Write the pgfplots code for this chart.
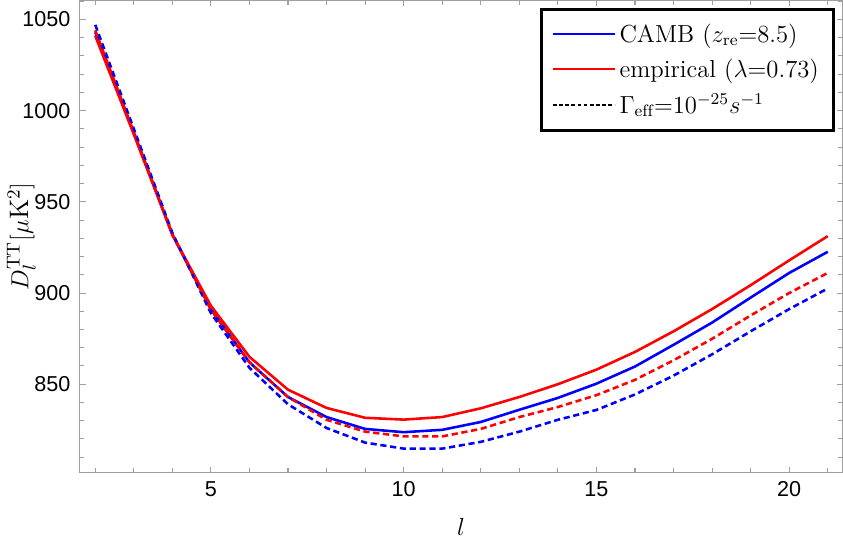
\documentclass[border=0pt]{standalone}
\usepackage{fontspec}
\usepackage{pgfplots}
\pgfplotsset{compat=1.18}
\newfontfamily\ticksans{Liberation Sans}
\begin{document}
\begin{tikzpicture}
\begin{axis}[
  scale only axis, width=371pt, height=229.5pt,
  xmin=1.6, xmax=21.38, ymin=801.7, ymax=1060.3,
  xtick={5,10,15,20}, minor xtick={2,...,21},
  ytick={850,900,950,1000,1050}, minor ytick={810,820,...,1060},
  axis line style={gray!75, line width=0.6pt},
  every tick/.style={gray!75, line width=0.5pt},
  major tick length=2.8pt, minor tick length=2pt,
  tick label style={font=\ticksans\fontsize{10.5}{12}\selectfont},
  /pgf/number format/assume math mode=true,
  /pgf/number format/1000 sep={},
  xticklabel style={yshift=-1pt},
  yticklabel style={xshift=-1pt},
  xlabel={$l$}, ylabel={$D_l^{\mathrm{TT}}[\mu\mathrm{K}^2]$},
  label style={font=\fontsize{13}{15}\selectfont},
  xlabel style={at={([yshift=-26.5pt]rel axis cs:0.5,0)}, anchor=center},
  ylabel style={at={([xshift=-28.5pt]rel axis cs:0,0.5)}, anchor=center},
  legend cell align=left,
  legend style={at={(rel axis cs:0.99,0.985)}, anchor=north east,
    draw=black, line width=1.5pt, inner xsep=5pt, inner ysep=5pt,
    font=\fontsize{12}{14}\selectfont, row sep=2.5pt},
  legend image code/.code={\draw[#1] (0pt,0pt) -- (30pt,0pt);},
]
\addplot[blue, line width=1.25pt, forget plot] coordinates {
(2,1043) (3,988) (4,932) (5,891) (6,862) (7,843) (8,832) (9,825.5) (10,823.7)
(11,825) (12,829.3) (13,836) (14,842.5) (15,850.3) (16,859.7) (17,871.6)
(18,883.8) (19,897.5) (20,911) (21,922.6)};
\addplot[red, line width=1.25pt, forget plot] coordinates {
(2,1041) (3,987) (4,932) (5,893) (6,865) (7,847) (8,837) (9,831.6) (10,830.6)
(11,832) (12,836.8) (13,843) (14,850) (15,858) (16,867.7) (17,879)
(18,891.2) (19,904.3) (20,917.9) (21,931.2)};
\addplot[blue, line width=1.25pt, dash pattern=on 3pt off 1.8pt, forget plot] coordinates {
(2,1047) (3,990) (4,933) (5,889) (6,859) (7,839) (8,826) (9,818) (10,814.7)
(11,814.7) (12,818.4) (13,824) (14,830.5) (15,835.9) (16,844.4) (17,854.7)
(18,866.4) (19,879) (20,891.2) (21,902.5)};
\addplot[red, line width=1.25pt, dash pattern=on 3pt off 1.8pt, forget plot] coordinates {
(2,1044) (3,988) (4,932) (5,891) (6,862) (7,843) (8,830.5) (9,824) (10,821.4)
(11,821.4) (12,825.5) (13,832) (14,837.5) (15,844) (16,852.4) (17,863.1)
(18,874.9) (19,887.7) (20,900) (21,911)};
\addlegendimage{draw=blue, line width=0.9pt}
\addlegendentry{CAMB ($z_{\mathrm{re}}$=8.5)}
\addlegendimage{draw=red, line width=0.9pt}
\addlegendentry{empirical ($\lambda$=0.73)}
\addlegendimage{draw=black, line width=0.9pt, dash pattern=on 1.8pt off 1.2pt}
\addlegendentry{$\Gamma_{\mathrm{eff}}$=$10^{-25}s^{-1}$}
\end{axis}
\end{tikzpicture}
\end{document}
